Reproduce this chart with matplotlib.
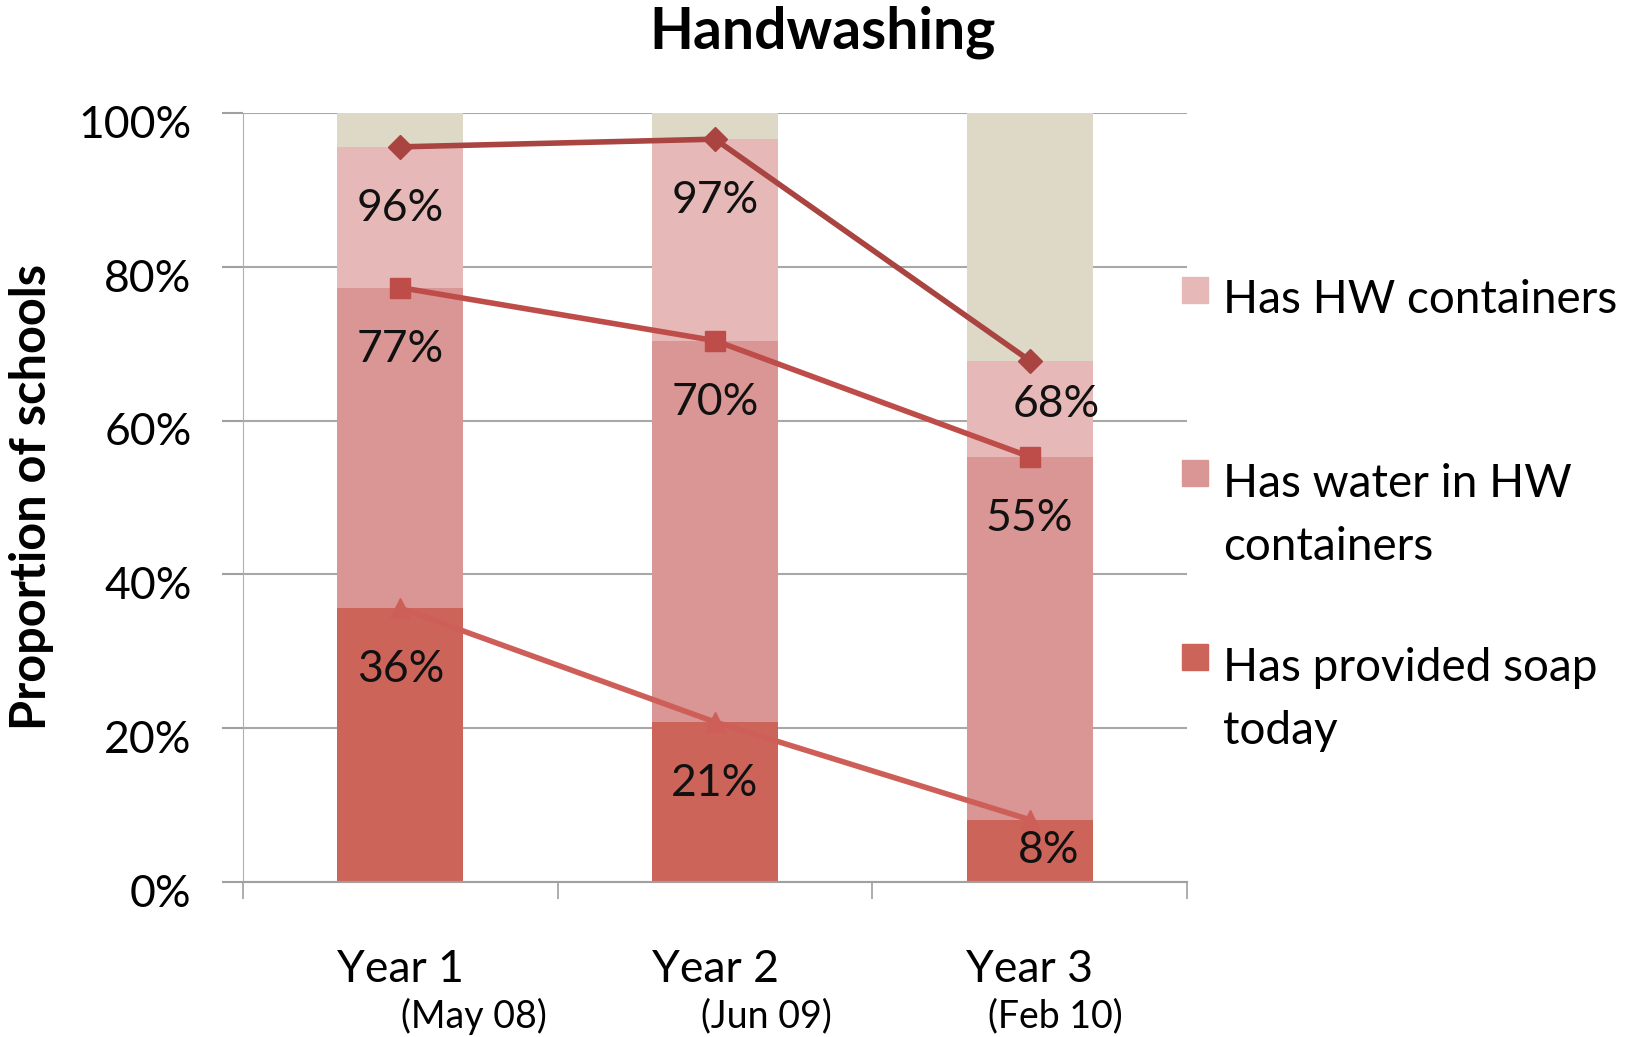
import matplotlib
matplotlib.use("Agg")
import matplotlib.pyplot as plt
from matplotlib.patches import Rectangle
import matplotlib.transforms as mtransforms
import numpy as np

plt.rcParams['font.family'] = ['Lato', 'DejaVu Sans']

categories = ["Year 1", "Year 2", "Year 3"]
dates = ["(May 08)", "(Jun 09)", "(Feb 10)"]
containers = [95.6, 96.6, 67.8]
water = [77.3, 70.4, 55.3]
soap = [35.6, 20.8, 8.1]
total = [100, 100, 100]
legend_labels = ["Has HW containers", "Has water in HW\ncontainers", "Has provided soap\ntoday"]

c_beige = "#DDD9C6"
c_cont = "#E6B9B8"
c_water = "#D99694"
c_soap = "#CD645A"
l_cont = "#A94440"
l_water = "#BE4D4A"
l_soap = "#CE5F58"

fig = plt.figure(figsize=(16.36, 10.37), dpi=100)
ax = fig.add_axes([0.1485, 0.1495, 0.7256 - 0.1485, 0.891 - 0.1495])

x = np.arange(len(categories))
w = 0.4
ax.bar(x, total, w, color=c_beige, zorder=2)
ax.bar(x, containers, w, color=c_cont, zorder=2)
ax.bar(x, water, w, color=c_water, zorder=2)
ax.bar(x, soap, w, color=c_soap, zorder=2)

ax.plot(x, containers, color=l_cont, lw=4, marker='D', ms=12, zorder=4)
ax.plot(x, water, color=l_water, lw=4, marker='s', ms=15, zorder=4)
ax.plot(x, soap, color=l_soap, lw=4, marker='^', ms=14, zorder=4)

off = 8.0
for si, series in enumerate([containers, water, soap]):
    for ci, v in enumerate(series):
        xo, yo = 0.0, 0.0
        if (si, ci) == (0, 2):
            xo, yo = 0.085, 2.3
        if (si, ci) == (2, 2):
            xo, yo = 0.06, 4.0
        ax.text(ci + xo, v - off + yo, f"{v:.0f}%", ha='center', va='center',
                fontsize=32, color='#111111', zorder=5)

ax.set_xlim(-0.5, 2.5)
ax.set_ylim(0, 100)
ax.set_yticks(np.arange(0, 101, 20))
ax.set_yticklabels([f"{t}%" for t in range(0, 101, 20)], fontsize=32)
ax.set_xticks(x)
ax.set_xticklabels(categories, fontsize=32)
ax.set_xticks([-0.5, 0.5, 1.5, 2.5], minor=True)
ax.tick_params(axis='x', which='major', length=0, pad=48)
ax.tick_params(axis='x', which='minor', length=12, color='#A0A0A0', width=1.2)
ax.tick_params(axis='y', length=15, color='#A0A0A0', width=1.5, pad=22)
shift = mtransforms.ScaledTranslation(0, -6 / 72, fig.dpi_scale_trans)
for lbl in ax.get_yticklabels():
    lbl.set_transform(lbl.get_transform() + shift)
ax.grid(axis='y', color='#A8A8A8', lw=1.5, zorder=0)
for s in ['top', 'right']:
    ax.spines[s].set_visible(False)
ax.spines['left'].set_color('#B0B0B0')
ax.spines['bottom'].set_color('#A0A0A0')
ax.spines['bottom'].set_linewidth(1.5)

date_dx = [0.235, 0.163, 0.083]
for ci, d in enumerate(dates):
    ax.text(ci + date_dx[ci], -0.175, d, transform=ax.get_xaxis_transform(),
            ha='center', va='center', fontsize=27)

fig.text(0.503, 0.969, "Handwashing", ha='center', va='center',
         fontsize=41, fontweight='bold')
fig.text(0.019, 0.521, "Proportion of schools", rotation=90, ha='center',
         va='center', fontsize=35, fontweight='bold')

# legend
leg_colors = [c_cont, c_water, c_soap]
patch_y = [290 / 1037, 473 / 1037, 657 / 1037]
text_y = [296 / 1037, 480 / 1037, 664 / 1037]
for col, lab, py, ty in zip(leg_colors, legend_labels, patch_y, text_y):
    pf = 1 - py
    tf = 1 - ty
    fig.patches.append(Rectangle((1182 / 1636, pf - 0.0125), 26 / 1636, 26 / 1037,
                                 transform=fig.transFigure, color=col))
    fig.text(1223 / 1636, tf + 0.0165, lab, ha='left', va='top', fontsize=33,
             linespacing=1.62)

fig.savefig("out.png", dpi=100)
